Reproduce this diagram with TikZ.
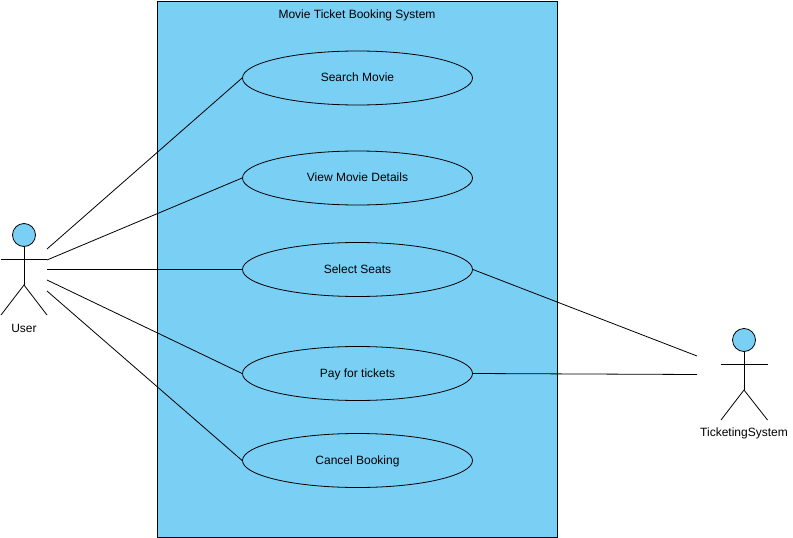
\documentclass[tikz,border=0pt]{standalone}
\usepackage{fontspec}
\setmainfont{Liberation Sans}
\usetikzlibrary{shapes.geometric}
\definecolor{skyfill}{HTML}{7ACFF5}
\tikzstyle{usecase}=[ellipse, draw, line width=0.8pt, fill=skyfill, minimum width=230pt, minimum height=54pt, inner sep=0pt, text height=9pt, text depth=2pt, font=\fontsize{12}{14}\selectfont]
\tikzstyle{head}=[circle, draw, line width=0.8pt, fill=skyfill, minimum size=23pt, inner sep=0pt]
\tikzstyle{plain}=[inner sep=0pt, font=\fontsize{12}{14}\selectfont]
\tikzstyle{link}=[line width=0.8pt, black]

\begin{document}
\begin{tikzpicture}[x=1pt, y=-1pt]
\useasboundingbox (0,0) rectangle (793,538);

\node[draw, line width=0.8pt, fill=skyfill, minimum width=400pt, minimum height=536.5pt, inner sep=0pt] (sys) at (357.5,269.25) {};
\node[plain] (title) at (357,15) {Movie Ticket Booking System};

\node[usecase] (search) at (357.5,78) {Search Movie};
\node[usecase] (details) at (357.5,178) {View Movie Details};
\node[usecase] (seats) at (357.5,269.5) {Select Seats};
\node[usecase] (pay) at (357.5,373.5) {Pay for tickets};
\node[usecase] (cancel) at (357.5,460.5) {Cancel Booking};

% user
\node[head] (uhead) at (24,235) {};
\coordinate (uhip) at (24,285);
\coordinate (ularm) at (1,259.5);
\coordinate (urarm) at (47,259.5);
\coordinate (ulleg) at (1,315);
\coordinate (urleg) at (47,315);
\draw[link] (uhead) -- (uhip);
\draw[link] (ularm) -- (urarm);
\draw[link] (ulleg) -- (uhip) -- (urleg);
\node[plain] (user) at (24,328) {User};

% ticketing system
\node[head] (thead) at (744,340) {};
\coordinate (thip) at (744,390);
\coordinate (tlarm) at (721,364.5);
\coordinate (trarm) at (767.5,364.5);
\coordinate (tlleg) at (721,420);
\coordinate (trleg) at (767.5,420);
\draw[link] (thead) -- (thip);
\draw[link] (tlarm) -- (trarm);
\draw[link] (tlleg) -- (thip) -- (trleg);
\node[plain] (ticket) at (744,433.5) {TicketingSystem};

% free ends
\coordinate (u1) at (47,249);
\coordinate (u2) at (47,260);
\coordinate (u3) at (47,269.5);
\coordinate (u4) at (47,280);
\coordinate (u5) at (47,291);
\coordinate (t1) at (697,356);
\coordinate (t2) at (697,374.5);

\draw[link] (u1) -- (search.west);
\draw[link] (u2) -- (details.west);
\draw[link] (u3) -- (seats.west);
\draw[link] (u4) -- (pay.west);
\draw[link] (u5) -- (cancel.west);
\draw[link] (seats.east) -- (t1);
\draw[link] (pay.east) -- (t2);

\end{tikzpicture}
\end{document}
